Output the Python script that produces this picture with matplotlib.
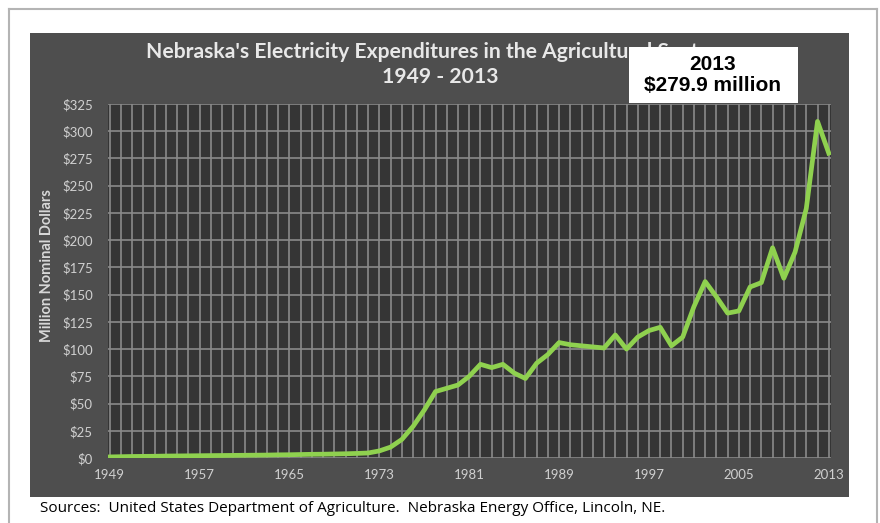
import matplotlib.pyplot as plt
from matplotlib.patches import Rectangle

# Electricity expenditures, million nominal dollars
years = list(range(1949, 2014))
spending = [1.0, 1.2, 1.4, 1.5, 1.6, 1.8, 1.9, 2.0, 2.1, 2.2,
            2.3, 2.4, 2.5, 2.6, 2.7, 2.9, 3.0, 3.2, 3.4, 3.5,
            3.7, 3.9, 4.2, 4.6, 6.5, 10, 17, 29, 44, 61,
            64, 67, 75, 86, 83, 86, 78, 73, 87, 95,
            106, 104, 103, 102, 101, 113, 100, 111, 117, 120,
            103, 111, 139, 162, 148, 133, 135, 157, 161, 193,
            165, 189, 229, 309, 279.9]
xtick_years = [1949, 1957, 1965, 1973, 1981, 1989, 1997, 2005, 2013]
ytick_vals = list(range(0, 326, 25))

W, H = 880, 523
fig = plt.figure(figsize=(W / 100, H / 100), dpi=100)
fig.patch.set_facecolor('white')

# outer frame
frame = fig.add_axes([9 / W, -0.05, 868 / W, 1.05 - 9 / H], zorder=-2)
frame.set_xticks([])
frame.set_yticks([])
frame.set_facecolor('white')
for s in frame.spines.values():
    s.set_color('#b4b4b4')
    s.set_linewidth(1.5)

# dark chart panel
panel = fig.add_axes([30 / W, (H - 497) / H, 819 / W, 464 / H], zorder=-1)
panel.set_facecolor('#4e4e4e')
panel.set_xticks([])
panel.set_yticks([])
for s in panel.spines.values():
    s.set_visible(False)

ax = fig.add_axes([108 / W, (H - 458) / H, 723 / W, 354 / H], zorder=1)
ax.set_facecolor('#353535')
ax.plot(years, spending, color='#8fd14f', linewidth=3.4,
        solid_joinstyle='round', zorder=3)

ax.set_xlim(1948.85, 2013.2)
ax.set_ylim(0, 325)
ax.set_xticks(years, minor=True)
ax.set_xticks(xtick_years)
ax.set_yticks(ytick_vals)
ax.set_yticklabels(['$%d' % v for v in ytick_vals])
ax.grid(True, which='both', axis='x', color='#8a8a8a', linewidth=1.2)
ax.grid(True, which='major', axis='y', color='#8a8a8a', linewidth=1.2)
ax.tick_params(which='both', length=0)
ax.tick_params(axis='both', colors='#d0d0d0', labelsize=9.5)
ax.tick_params(axis='x', pad=8)
ax.tick_params(axis='y', pad=11)
for s in ax.spines.values():
    s.set_visible(False)
for lab in ax.get_xticklabels() + ax.get_yticklabels():
    lab.set_family('Lato')

fig.text(47 / W, 1 - 266 / H, 'Million Nominal Dollars', rotation=90,
         ha='center', va='center', color='#d8d8d8', fontsize=10.5,
         fontweight='bold', family='Lato')

# title
fig.text(432 / W, 1 - 52 / H, "Nebraska's Electricity Expenditures in the Agricultural Sector",
         ha='center', va='center', color='#e8e8e8', fontsize=15.2,
         fontweight='bold', family='Lato')
fig.text(440 / W, 1 - 77 / H, '1949 - 2013', ha='center', va='center',
         color='#e8e8e8', fontsize=15.2, fontweight='bold', family='Lato')

# callout box
fig.patches.append(Rectangle((629 / W, 1 - 103 / H), 169 / W, 56 / H,
                             transform=fig.transFigure, facecolor='white',
                             edgecolor='none', zorder=5))
fig.text(713 / W, 1 - 75 / H, '2013\n$279.9 million', ha='center', va='center',
         color='black', fontsize=15, fontweight='bold', family='Liberation Sans',
         linespacing=1.1, zorder=6)

fig.text(40 / W, 1 - 509 / H,
         'Sources:  United States Department of Agriculture.  Nebraska Energy Office, Lincoln, NE.',
         ha='left', va='center', color='black', fontsize=11, family='Open Sans')

fig.savefig('out.png', dpi=100)
